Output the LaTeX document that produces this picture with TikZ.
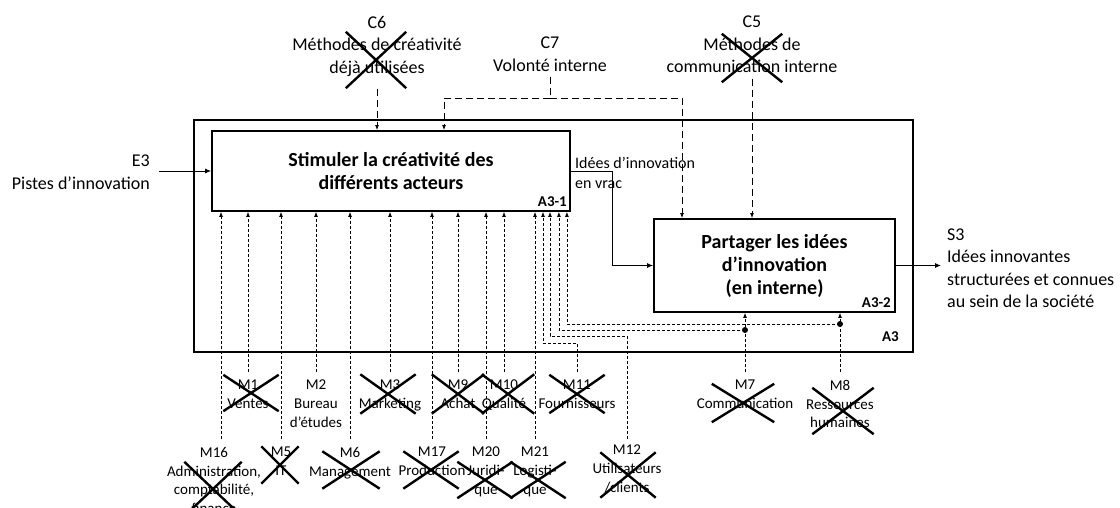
\documentclass[tikz,border=0pt]{standalone}
\usepackage{fontspec}
\setmainfont{Carlito}
\usepackage{tikz}
\usetikzlibrary{arrows.meta, shapes.misc}

\begin{document}
\begin{tikzpicture}[x=1pt, y=-1pt,
    every node/.style={font=\fontsize{15}{19}\selectfont},
    % Box styles
    activity/.style={rectangle, draw=black, line width=1.8pt, inner sep=0pt, align=center, font=\fontsize{20}{23}\selectfont\bfseries},
    frame/.style={rectangle, draw=black, line width=1.8pt, inner sep=0pt},
    tag/.style={anchor=east, inner sep=0pt, font=\fontsize{15}{18}\selectfont\bfseries},
    % Label styles
    extlabel/.style={align=center, inner sep=0pt, font=\fontsize{18}{22.5}\selectfont},
    mlabel/.style={anchor=north, align=center, inner sep=0pt, font=\fontsize{15}{18.7}\selectfont},
    xmark/.style={cross out, draw=black, line width=2.4pt, inner sep=0pt},
    % Arrow styles
    flow/.style={-{Latex[length=6pt,width=5pt]}, line width=0.9pt},
    ctrl/.style={-{Latex[length=5pt,width=4pt]}, line width=0.9pt, dash pattern=on 7pt off 4pt},
    mech/.style={-{Latex[length=5pt,width=4pt]}, line width=0.8pt, dash pattern=on 3pt off 2pt},
    junction/.style={circle, fill=black, inner sep=0pt, minimum size=6pt}
]
\useasboundingbox (0,0) rectangle (1120,508);

% Outer frame A3
\node[frame, minimum width=719pt, minimum height=232pt] (a3) at (553.5,236) {};
\node[tag] at (899,337) {A3};

% Activities
\node[activity, minimum width=358pt, minimum height=80pt] (a31) at (391,171) {Stimuler la créativité des\\différents acteurs};
\node[tag] at (567,202) {A3-1};
\node[activity, minimum width=241pt, minimum height=93pt] (a32) at (774.5,265.5) {Partager les idées\\d’innovation\\(en interne)};
\node[tag] at (891,303) {A3-2};

% Input / output
\node[extlabel, align=right, anchor=east] (e3) at (150,172) {E3\\Pistes d’innovation};
\node[extlabel, align=left, anchor=west] (s3) at (947,268) {S3\\Idées innovantes\\structurées et connues\\au sein de la société};
\node[align=left, anchor=west, inner sep=0pt, font=\fontsize{16}{20}\selectfont] (vrac) at (575,173) {Idées d’innovation\\en vrac};

\draw[flow] ([xshift=9pt]e3.east |- a31.west) -- (a31.west);
\draw[flow] (a31.east) -- ++(42,0) |- (a32.west);
\draw[flow] (a32.east) -- ([xshift=-6pt]s3.west |- a32.east);

% Controls
\node[extlabel, anchor=north] (c6) at (377,16) {C6\\Méthodes de créativité\\déjà utilisées};
\node[extlabel, anchor=north] (c7) at (550,37) {C7\\Volonté interne};
\node[extlabel, anchor=north] (c5) at (752,16) {C5\\Méthodes de\\communication interne};
\coordinate (c7j) at (550,98);

\draw[ctrl] ([yshift=-12pt]c6.south) -- (c6.south |- a31.north);
\draw[ctrl] ([yshift=-6pt]c5.south) -- (c5.south |- a32.north);
\draw[ctrl, -] ([yshift=-5pt]c7.south) -- (c7j);
\draw[ctrl] (c7j) -| ([xshift=53pt]a31.north);
\draw[ctrl] (c7j) -| ([xshift=-92.5pt]a32.north);

% Mechanisms - first row
\node[mlabel] (m1) at (248,380) {M1\\Ventes};
\node[mlabel] (m2) at (316,380) {M2\\Bureau\\d’études};
\node[mlabel] (m3) at (390,380) {M3\\Marketing};
\node[mlabel] (m9) at (458,380) {M9\\Achat};
\node[mlabel] (m10) at (504,380) {M10\\Qualité};
\node[mlabel] (m11) at (577,380) {M11\\Fournisseurs};
\node[mlabel] (m7) at (745,380) {M7\\Communication};
\node[mlabel] (m8) at (840,380) {M8\\Ressources\\humaines};

% Mechanisms - second row
\node[mlabel] (m16) at (214,447) {M16\\Administration,\\comptabilité,\\finance};
\node[mlabel] (m5) at (281,447) {M5\\IT};
\node[mlabel] (m6) at (350,447) {M6\\Management};
\node[mlabel] (m17) at (432,447) {M17\\Production};
\node[mlabel] (m20) at (486,447) {M20\\Juridi-\\que};
\node[mlabel] (m21) at (535,447) {M21\\Logisti-\\que};
\node[mlabel] (m12) at (627,445) {M12\\Utilisateurs\\/clients};

% Straight mechanism arrows into A3-1
\foreach \m in {m1,m5,m2,m6,m3,m17,m9,m20,m10,m21}
    \draw[mech] ([yshift=8pt]\m.north) -- (\m.north |- a31.south);
\draw[mech] ([xshift=7pt,yshift=8pt]m16.north) -- ([xshift=7pt]m16.north |- a31.south);

% Routed mechanism arrows
\coordinate (j11) at (543,343);
\coordinate (j12) at (550,336);
\node[junction] (d7) at (745,330) {};
\node[junction] (d8) at (840,324) {};

\draw[mech] ([yshift=8pt]m11.north) |- (j11) -- (j11 |- a31.south);
\draw[mech] ([yshift=6pt]m12.north) |- (j12) -- (j12 |- a31.south);
\draw[mech] ([yshift=8pt]m7.north) -- (m7.north |- a32.south);
\draw[mech] ([yshift=8pt]m8.north) -- (m8.north |- a32.south);
\draw[mech] (d7.center) -| ([xshift=-12pt]a31.south east);
\draw[mech] (d8.center) -| ([xshift=-4pt]a31.south east);

% Crossed-out items
\foreach \nm/\cx/\cy/\w/\h in {c6/376/60/58/54, c5/752/58/58/46,
    m1/251/393/53/34, m3/388/394/53/37, m9/458/394/50/37, m10/508/394/50/37,
    m11/577/394/53/36, m7/743/403/60/36, m8/843/411/59/44,
    m16/213/489/55/52, m5/280/465/35/35, m6/351/470/55/35, m17/431/470/53/35,
    m20/485/480/53/34, m21/538/480/53/34, m12/628/475/53/43}
    \node[xmark, minimum width=\w pt, minimum height=\h pt] (x\nm) at (\cx,\cy) {};

\end{tikzpicture}
\end{document}
